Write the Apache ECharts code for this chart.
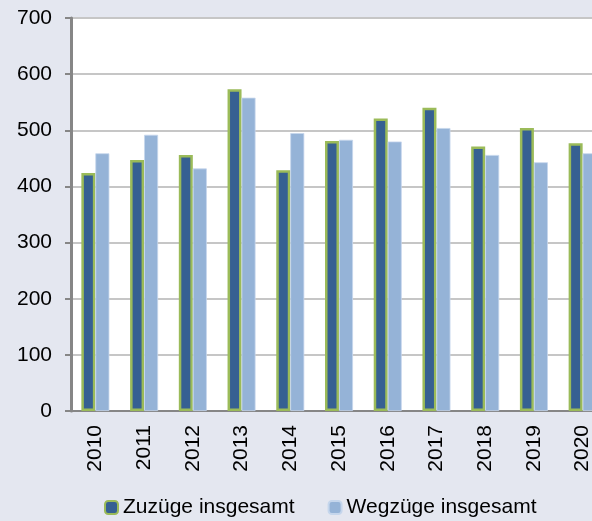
<!DOCTYPE html>
<html>
<head>
<meta charset="utf-8">
<script src="https://cdn.jsdelivr.net/npm/echarts@6/dist/echarts.min.js"></script>
<style>
  html, body { margin: 0; padding: 0; background: #e4e7f0; }
  #chart { width: 592px; height: 521px; }
</style>
</head>
<body>
<div id="chart"></div>
<script>
// Jahre
var years = ['2010', '2011', '2012', '2013', '2014', '2015', '2016', '2017', '2018', '2019', '2020'];
// Zuzüge / Wegzüge
var zuzuege = [424, 447, 456, 573, 429, 481, 521, 540, 471, 504, 477];
var wegzuege = [459, 492, 432, 558, 495, 483, 480, 504, 456, 443, 459];
var seriesNames = ['Zuzüge insgesamt', 'Wegzüge insgesamt'];

var chart = echarts.init(document.getElementById('chart'));

var font = 'Arial, "Liberation Sans", sans-serif';

var option = {
  backgroundColor: '#e4e7f0',
  animation: false,
  textStyle: { fontFamily: font },
  grid: {
    left: 71,
    top: 18,
    height: 393,
    width: 536,   // rechter Rand liegt außerhalb des Bildes
    outerBoundsMode: 'none',
    containLabel: false,
    show: true,
    backgroundColor: '#ffffff',
    borderColor: '#000000',
    borderWidth: 2
  },
  legend: {
    data: seriesNames,
    left: 104,
    top: 497,
    padding: 0,
    itemWidth: 13,
    itemHeight: 13,
    itemGap: 33,
    textStyle: { fontSize: 21, color: '#000', fontFamily: font }
  },
  xAxis: {
    type: 'category',
    data: years,
    axisLine: { lineStyle: { color: '#868686', width: 2 } },
    axisTick: { show: false },
    axisLabel: {
      rotate: 90,
      fontSize: 21,
      color: '#000',
      margin: 14,
      fontFamily: font
    }
  },
  yAxis: {
    type: 'value',
    min: 0,
    max: 700,
    interval: 100,
    axisLine: { show: true, lineStyle: { color: '#868686', width: 3 } },
    axisTick: { show: true, length: 6, lineStyle: { color: '#868686', width: 2 } },
    axisLabel: { fontSize: 21, color: '#000', margin: 19, fontFamily: font },
    splitLine: { lineStyle: { color: '#c6c6c6', width: 2 } }
  },
  series: [
    {
      name: seriesNames[0],
      type: 'bar',
      data: zuzuege,
      barWidth: 14,
      barGap: '0%',
      itemStyle: { color: '#366092', borderColor: '#9bbb59', borderWidth: 2.5 }
    },
    {
      name: seriesNames[1],
      type: 'bar',
      data: wegzuege,
      barWidth: 14,
      itemStyle: { color: '#95b3d7', borderColor: '#c5d6ec', borderWidth: 0.8 }
    }
  ]
};

chart.setOption(option);
</script>
</body>
</html>
